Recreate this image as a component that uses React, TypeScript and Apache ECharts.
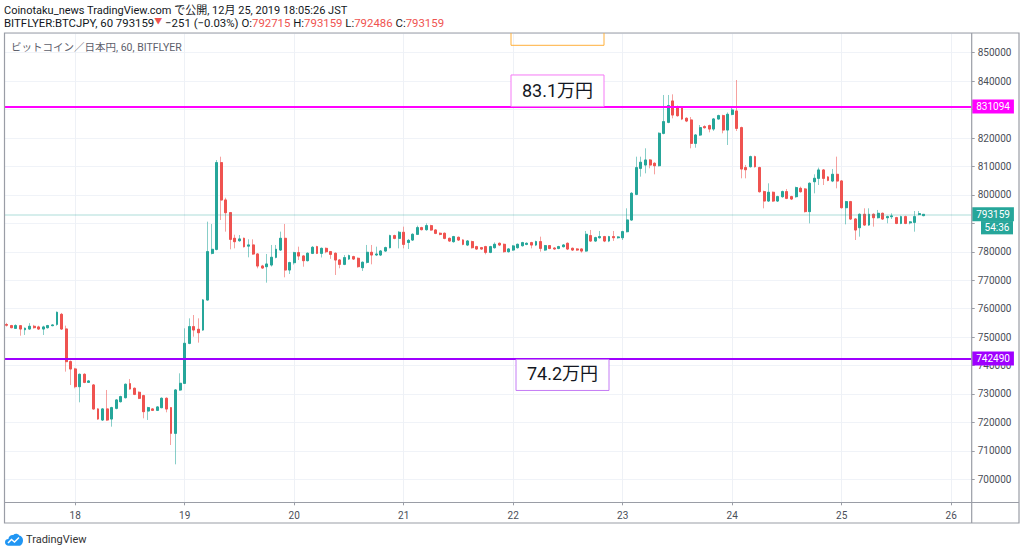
import React, { useEffect, useRef } from "react";
import * as echarts from "echarts";

// ---- candles (1h, BITFLYER BTC/JPY) : [open, close, low, high] ----
const dec17 = [
  [754400, 754200, 753700, 755000], [754030, 753320, 753100, 754300], [753090, 754030, 752900, 754500],
  [754000, 752850, 750500, 754200], [752620, 753090, 750750, 753400], [752850, 753790, 752600, 754900],
  [753790, 753320, 753000, 754300], [753560, 752850, 752500, 754000], [752850, 753560, 750740, 754000],
  [753320, 754030, 753000, 754300], [754030, 754260, 753800, 754500], [754490, 758710, 754000, 759000],
  [758000, 752850, 752500, 758500], [752850, 741370, 737850, 754030], [741370, 738790, 733160, 741800],
];
const dec18 = [
  [738790, 732580, 732000, 739200], [732580, 736910, 727070, 737200], [736910, 734100, 733800, 737300],
  [734100, 734570, 733900, 734900], [733160, 724730, 724500, 733500], [724730, 721210, 720900, 725000],
  [720860, 724730, 720500, 725000], [724730, 720860, 720500, 731400], [721210, 725190, 718510, 725500],
  [724960, 727890, 724600, 728200], [727300, 729060, 727000, 729400], [728710, 733400, 728400, 733700],
  [733630, 731760, 731500, 735270], [731990, 729880, 729600, 732300], [730590, 728480, 728200, 730900],
  [729410, 723790, 721440, 729700], [724020, 725190, 720860, 725500], [724730, 724260, 724000, 725000],
  [724260, 725430, 724000, 725700], [725190, 728480, 725000, 728800], [728480, 724730, 723550, 728800],
  [725190, 716170, 712070, 725400], [716170, 731400, 705270, 731700], [731400, 733750, 731100, 737270],
];
const dec19 = [
  [733750, 747810, 733500, 753090], [747810, 753670, 747500, 756600], [753670, 752500, 750150, 757770],
  [752730, 751560, 748050, 756600], [752500, 763050, 752200, 763400], [763050, 780040, 762800, 790590],
  [779460, 780860, 779100, 789760], [780860, 811340, 780500, 812270], [811340, 798210, 791180, 813440],
  [798210, 793760, 787080, 799000], [793760, 784380, 780860, 794000], [784730, 783560, 781210, 786000],
  [783900, 784500, 783500, 785900], [784730, 781800, 781500, 785000], [782000, 782400, 778050, 784400],
  [782390, 779220, 778900, 784380], [779220, 775000, 774180, 779500], [775000, 774300, 774000, 775400],
  [774770, 775700, 769140, 779220], [775360, 778050, 774800, 782390], [778050, 780860, 777700, 782390],
  [780630, 784730, 780300, 787080], [784730, 773600, 771020, 789770], [773600, 776180, 772190, 776500],
];
const dec20 = [
  [776180, 779690, 775500, 780000], [779690, 778520, 777100, 781800], [778520, 776880, 774760, 778800],
  [776880, 779460, 776600, 779800], [779460, 781570, 779200, 782000], [781800, 779460, 779200, 782100],
  [779460, 781200, 778000, 781500], [781200, 780040, 779500, 781500], [780040, 779100, 777500, 780300],
  [779460, 777110, 771840, 779800], [777110, 775590, 774200, 777400], [775590, 777930, 775300, 778870],
  [777460, 778640, 777100, 779000], [778280, 777460, 777100, 778600], [777700, 774770, 774400, 778000],
  [774420, 776300, 773250, 776600], [776300, 779810, 775900, 782400], [779810, 778870, 775590, 782390],
  [778900, 779200, 778500, 781800], [778870, 780270, 778500, 780600], [780270, 781450, 780000, 781800],
  [781450, 785670, 781200, 786000], [785670, 784730, 784400, 786000], [784730, 786840, 781200, 787300],
];
const dec21 = [
  [786840, 782620, 781200, 788830], [783300, 784000, 780980, 784500], [784140, 786140, 783800, 786500],
  [786140, 788480, 786000, 789180], [788480, 787780, 787500, 788800], [787780, 789180, 787400, 790000],
  [789180, 787660, 787400, 789500], [787660, 786490, 786200, 787900], [786500, 786140, 785800, 786800],
  [786500, 784730, 784400, 786800], [784730, 783790, 783500, 785000], [783560, 785320, 783200, 785600],
  [785080, 784140, 783800, 785400], [784140, 782620, 782300, 784400], [782380, 783790, 782000, 784100],
  [783560, 781450, 781100, 783900], [781800, 780980, 780700, 782100], [781450, 780980, 780700, 781700],
  [781800, 779810, 779100, 782100], [779810, 781800, 779500, 782100], [781450, 782620, 781100, 783300],
  [782970, 782390, 782000, 783300], [782620, 780040, 779700, 782900], [780040, 780980, 779700, 781300],
];
const dec22 = [
  [780630, 782040, 780300, 782400], [781450, 782620, 781100, 782900], [782150, 783200, 781800, 783500],
  [782620, 782970, 782300, 783300], [783200, 782380, 781200, 783500], [782380, 783560, 782000, 783900],
  [783560, 781210, 780040, 785320], [780630, 782150, 780300, 782400], [782150, 781200, 780900, 782400],
  [781300, 781000, 780700, 781600], [781200, 781800, 780900, 782100], [781800, 782380, 781500, 782700],
  [782970, 780980, 780600, 783300], [781210, 780630, 780300, 781500], [780980, 780630, 780300, 781300],
  [780980, 780270, 779700, 781200], [780270, 786140, 780000, 787310], [785670, 783790, 783500, 787660],
  [783790, 784960, 783500, 785300], [784960, 785320, 784600, 787310], [785320, 783790, 783400, 785600],
  [783790, 785320, 783400, 785600], [785320, 784960, 783800, 787310], [784960, 785200, 784600, 785500],
];
const dec23 = [
  [784960, 787070, 784140, 787400], [787070, 791180, 786800, 795280], [791180, 800550, 790900, 801000],
  [800200, 809580, 799900, 813440], [809340, 811460, 806410, 813440], [810520, 812270, 807580, 816380],
  [812270, 810520, 809340, 812600], [811100, 810280, 807230, 811500], [810280, 821650, 810000, 822000],
  [821650, 825750, 821300, 835130], [825520, 831380, 825200, 835130], [833020, 828090, 826920, 835360],
  [831020, 827860, 827500, 831400], [830680, 826690, 826300, 831000], [826920, 825980, 825600, 827300],
  [826340, 818130, 816380, 827390], [818130, 821060, 816600, 821400], [821060, 823640, 820700, 824580],
  [824000, 823640, 823300, 824500], [824350, 823170, 822000, 824700], [823170, 826690, 822500, 827000],
  [826690, 827860, 826500, 828200], [827860, 822820, 821650, 828200], [822820, 828330, 817550, 829000],
];
const dec24 = [
  [828330, 829850, 828000, 830670], [829500, 823400, 822470, 840400], [823640, 809110, 805830, 824000],
  [809580, 808870, 805830, 810520], [809930, 813440, 809600, 813800], [813440, 809930, 809600, 813800],
  [809580, 801140, 800800, 809900], [801140, 797860, 795280, 801500], [797860, 800910, 797500, 804070],
  [800910, 797860, 797500, 801200], [797860, 799380, 797500, 799700], [799380, 801140, 799000, 801500],
  [801140, 798800, 798500, 802080], [799380, 798560, 798200, 799700], [799380, 802550, 799000, 802900],
  [802300, 801140, 800800, 802900], [802080, 794130, 793800, 802400], [794130, 804070, 789990, 804400],
  [804650, 805830, 800550, 807230], [805830, 808760, 803480, 809580], [808760, 805830, 803480, 809100],
  [806300, 805120, 804800, 806600], [804890, 807230, 804500, 809110], [807230, 804890, 802310, 813450],
];
const dec25 = [
  [804890, 795510, 795200, 805200], [795510, 797620, 789650, 797900], [797620, 791530, 791200, 797900],
  [791530, 787660, 784140, 791800], [788480, 793170, 785320, 793500], [793170, 789420, 789100, 795280],
  [789420, 793170, 789100, 795280], [793170, 791990, 788830, 793500], [791990, 793520, 791700, 794700],
  [793520, 791530, 791200, 793800], [791990, 792350, 790000, 792700], [792350, 792600, 791530, 793520],
  [791990, 789990, 789700, 792300], [789990, 792350, 789700, 792700], [792350, 789990, 789700, 792700],
  [790200, 790500, 789650, 790800], [790360, 792350, 787070, 794340], [793100, 793410, 792800, 794340],
  [792715, 793159, 792486, 793159],
];

const startDay = 17;
const startHour = 9;
const slotCount = 212; // hourly slots shown on the time axis (Dec 17 09:00 .. Dec 26 04:00)

const resistance = 831094;
const support = 742490;
const resistanceLabel = "83.1万円";
const supportLabel = "74.2万円";
const yMin = 691913;
const yMax = 856927;
const hiddenTicks = [830000, 790000]; // covered by the price boxes on the axis
const countdown = "54:36";

const headerLine1 = "Coinotaku_news TradingView.com で公開, 12月 25, 2019 18:05:26 JST";
const symbolName = "BITFLYER:BTCJPY, 60";
const paneTitle = "ビットコイン／日本円, 60, BITFLYER";

const FONT = "Roboto, 'Noto Sans CJK JP', sans-serif";
const UP = "#26a69a";
const DOWN = "#ef5350";
const FRAME = "#9a9da6";

const categories: string[] = [];
for (let k = 0; k < slotCount; k++) {
  const t = startHour + k;
  const day = startDay + Math.floor(t / 24);
  const hour = t % 24;
  categories.push(`${day} ${String(hour).padStart(2, "0")}:00`);
}
const isMidnight = (_i: number, v: string) => / 00:00$/.test(v);

const candles = [...dec17, ...dec18, ...dec19, ...dec20, ...dec21, ...dec22, ...dec23, ...dec24, ...dec25];
const last = candles[candles.length - 1];
const prevClose = candles[candles.length - 2][1];

export default function App() {
  const ref = useRef<HTMLDivElement>(null);
  useEffect(() => {
    if (!ref.current) return;
    const chart = echarts.init(ref.current, undefined, { renderer: "svg" });

    const bodies = candles.map((c) => [c[0], c[1], Math.min(c[0], c[1]), Math.max(c[0], c[1])]);
    const lastPrice = last[1];

    const priceLabel = (bg: string) => ({
      show: true,
      position: "end",
      distance: 0.5,
      formatter: (p: any) => String(p.value),
      backgroundColor: bg,
      color: "#fff",
      fontSize: 10,
      fontFamily: FONT,
      padding: [2, 4, 1, 4],
      lineHeight: 11,
    });

    chart.setOption({
      animation: false,
      backgroundColor: "#ffffff",
      textStyle: { fontFamily: FONT },
      grid: { left: 4.5, top: 33, width: 967.2, height: 469.3, containLabel: false },
      xAxis: {
        type: "category",
        data: categories,
        boundaryGap: true,
        axisLine: { show: false },
        axisTick: { show: true, alignWithLabel: true, interval: isMidnight, length: 3, lineStyle: { color: FRAME } },
        axisLabel: {
          interval: isMidnight,
          formatter: (v: string) => v.split(" ")[0],
          color: "#4a4e58",
          fontSize: 10,
          margin: 8,
          fontFamily: FONT,
        },
        splitLine: { show: true, interval: isMidnight, alignWithLabel: true, lineStyle: { color: "#eef1f6", width: 1 } },
      },
      yAxis: {
        type: "value",
        position: "right",
        min: yMin,
        max: yMax,
        splitNumber: 16,
        minInterval: 10000,
        maxInterval: 10000,
        axisLine: { show: false },
        axisTick: { show: true, length: 3, lineStyle: { color: FRAME } },
        axisLabel: {
          showMinLabel: false,
          showMaxLabel: false,
          color: "#4a4e58",
          fontSize: 10,
          margin: 6,
          fontFamily: FONT,
          formatter: (v: number) => (hiddenTicks.includes(v) ? "" : String(v)),
        },
        splitLine: { show: true, lineStyle: { color: "#f0f3f8", width: 1 } },
      },
      series: [
        {
          name: "wicks",
          type: "candlestick",
          data: candles,
          barWidth: 2.4,
          z: 2,
          silent: true,
          itemStyle: {
            color: "rgba(0,0,0,0)",
            color0: "rgba(0,0,0,0)",
            borderColor: "rgba(38,166,154,0.55)",
            borderColor0: "rgba(239,83,80,0.55)",
            borderWidth: 1,
          },
        },
        {
          name: "bodies",
          type: "candlestick",
          data: bodies,
          barWidth: 2.4,
          z: 3,
          silent: true,
          itemStyle: { color: UP, color0: DOWN, borderColor: UP, borderColor0: DOWN, borderWidth: 1 },
          markLine: {
            silent: true,
            symbol: ["none", "none"],
            animation: false,
            data: [
              { yAxis: lastPrice, lineStyle: { color: "rgba(38,166,154,0.25)", width: 1.5, type: "solid" }, label: priceLabel(UP) },
              { yAxis: resistance, lineStyle: { color: "#ff00ff", width: 2, type: "solid" }, label: priceLabel("#ff00ff") },
              { yAxis: support, lineStyle: { color: "#9f00ff", width: 2, type: "solid" }, label: priceLabel("#9f00ff") },
            ],
          },
        },
      ],
    });

    const yR = chart.convertToPixel({ yAxisIndex: 0 }, resistance) as number;
    const yS = chart.convertToPixel({ yAxisIndex: 0 }, support) as number;
    const yL = chart.convertToPixel({ yAxisIndex: 0 }, lastPrice) as number;

    const change = lastPrice - prevClose;
    const pct = ((change / prevClose) * 100).toFixed(2);
    const minus = (n: number | string) => String(n).replace("-", "−");

    chart.setOption({
      graphic: [
        // header
        {
          type: "text", x: 4, y: 10.5, z: 100,
          style: { text: headerLine1, fill: "#131722", font: `11px ${FONT}`, verticalAlign: "middle", align: "left" },
        },
        {
          type: "text", x: 4, y: 23, z: 100,
          style: {
            text:
              `{d|${symbolName} ${lastPrice}}{t|▼}{d| ${minus(change)} (${minus(pct)}%) O:}{r|${last[0]}}{d| H:}{r|${last[3]}}` +
              `{d| L:}{r|${last[2]}}{d| C:}{r|${last[1]}}`,
            verticalAlign: "middle",
            align: "left",
            rich: {
              d: { fill: "#131722", fontSize: 11.4, fontFamily: FONT },
              r: { fill: DOWN, fontSize: 11.4, fontFamily: FONT },
              t: { fill: DOWN, fontSize: 8, fontFamily: FONT, verticalAlign: "top" },
            },
          },
        },
        {
          type: "text", x: 11, y: 47, z: 100,
          style: { text: paneTitle, fill: "#5d606b", font: `10.5px ${FONT}`, verticalAlign: "middle", align: "left" },
        },
        // partially hidden orange note box at the top
        {
          type: "polyline", z: 90,
          shape: { points: [[511, 33], [511, 45.3], [604, 45.3], [604, 33]] },
          style: { stroke: "#ffb03b", lineWidth: 1, fill: "none" },
        },
        // resistance note
        {
          type: "rect", z: 90,
          shape: { x: 511, y: yR - 31.5, width: 93, height: 31.5 },
          style: { fill: "#ffffff", stroke: "#f57af5", lineWidth: 1 },
        },
        {
          type: "text", x: 557.5, y: yR - 16, z: 91,
          style: { text: resistanceLabel, fill: "#131722", font: `18px ${FONT}`, align: "center", verticalAlign: "middle" },
        },
        // support note
        {
          type: "rect", z: 90,
          shape: { x: 516, y: yS + 1, width: 93, height: 31 },
          style: { fill: "#ffffff", stroke: "#c47cf5", lineWidth: 1 },
        },
        {
          type: "text", x: 562.5, y: yS + 15.5, z: 91,
          style: { text: supportLabel, fill: "#131722", font: `18px ${FONT}`, align: "center", verticalAlign: "middle" },
        },
        // countdown box
        {
          type: "rect", z: 95,
          shape: { x: 981, y: yL + 6.7, width: 32, height: 13.3 },
          style: { fill: UP },
        },
        {
          type: "text", x: 997, y: yL + 13.5, z: 96,
          style: { text: countdown, fill: "#ffffff", font: `10px ${FONT}`, align: "center", verticalAlign: "middle" },
        },
        // frame
        {
          type: "rect", z: 80,
          shape: { x: 4.5, y: 33, width: 1014.5, height: 490 },
          style: { fill: "none", stroke: FRAME, lineWidth: 1.2 },
        },
        { type: "line", z: 80, shape: { x1: 971.7, y1: 33, x2: 971.7, y2: 523 }, style: { stroke: FRAME, lineWidth: 1.2 } },
        { type: "line", z: 80, shape: { x1: 4.5, y1: 502.5, x2: 1019, y2: 502.5 }, style: { stroke: FRAME, lineWidth: 1.2 } },
        // TradingView logo
        {
          type: "tvcloud", x: 5, y: 533, scaleX: 0.75, scaleY: 0.8, z: 100,
          style: { fill: "#2196f3" },
        },
        {
          type: "polyline", z: 101,
          shape: { points: [[8, 543], [11.5, 539.5], [14.5, 542], [19, 537.5]] },
          style: { stroke: "#ffffff", lineWidth: 1.5, fill: "none" },
        },
        {
          type: "text", x: 26, y: 539, z: 100,
          style: { text: "TradingView", fill: "#333333", font: `11px ${FONT}`, align: "left", verticalAlign: "middle" },
        },
      ],
    });

    return () => chart.dispose();
  }, []);

  return <div ref={ref} style={{ position: "fixed", left: 0, top: 0, width: 1024, height: 552 }} />;
}

echarts.graphic.registerShape(
  "tvcloud",
  echarts.graphic.extendPath(
    "M5 16 C2 16 0 14 0 11.5 C0 9 2 7.5 4.5 7.5 C5 4 8 2 11 2.5 C13 0.5 17 0.5 19 3 C22 3.5 24 6 24 9 C24 13 21.5 16 18.5 16 Z",
    {}
  )
);
